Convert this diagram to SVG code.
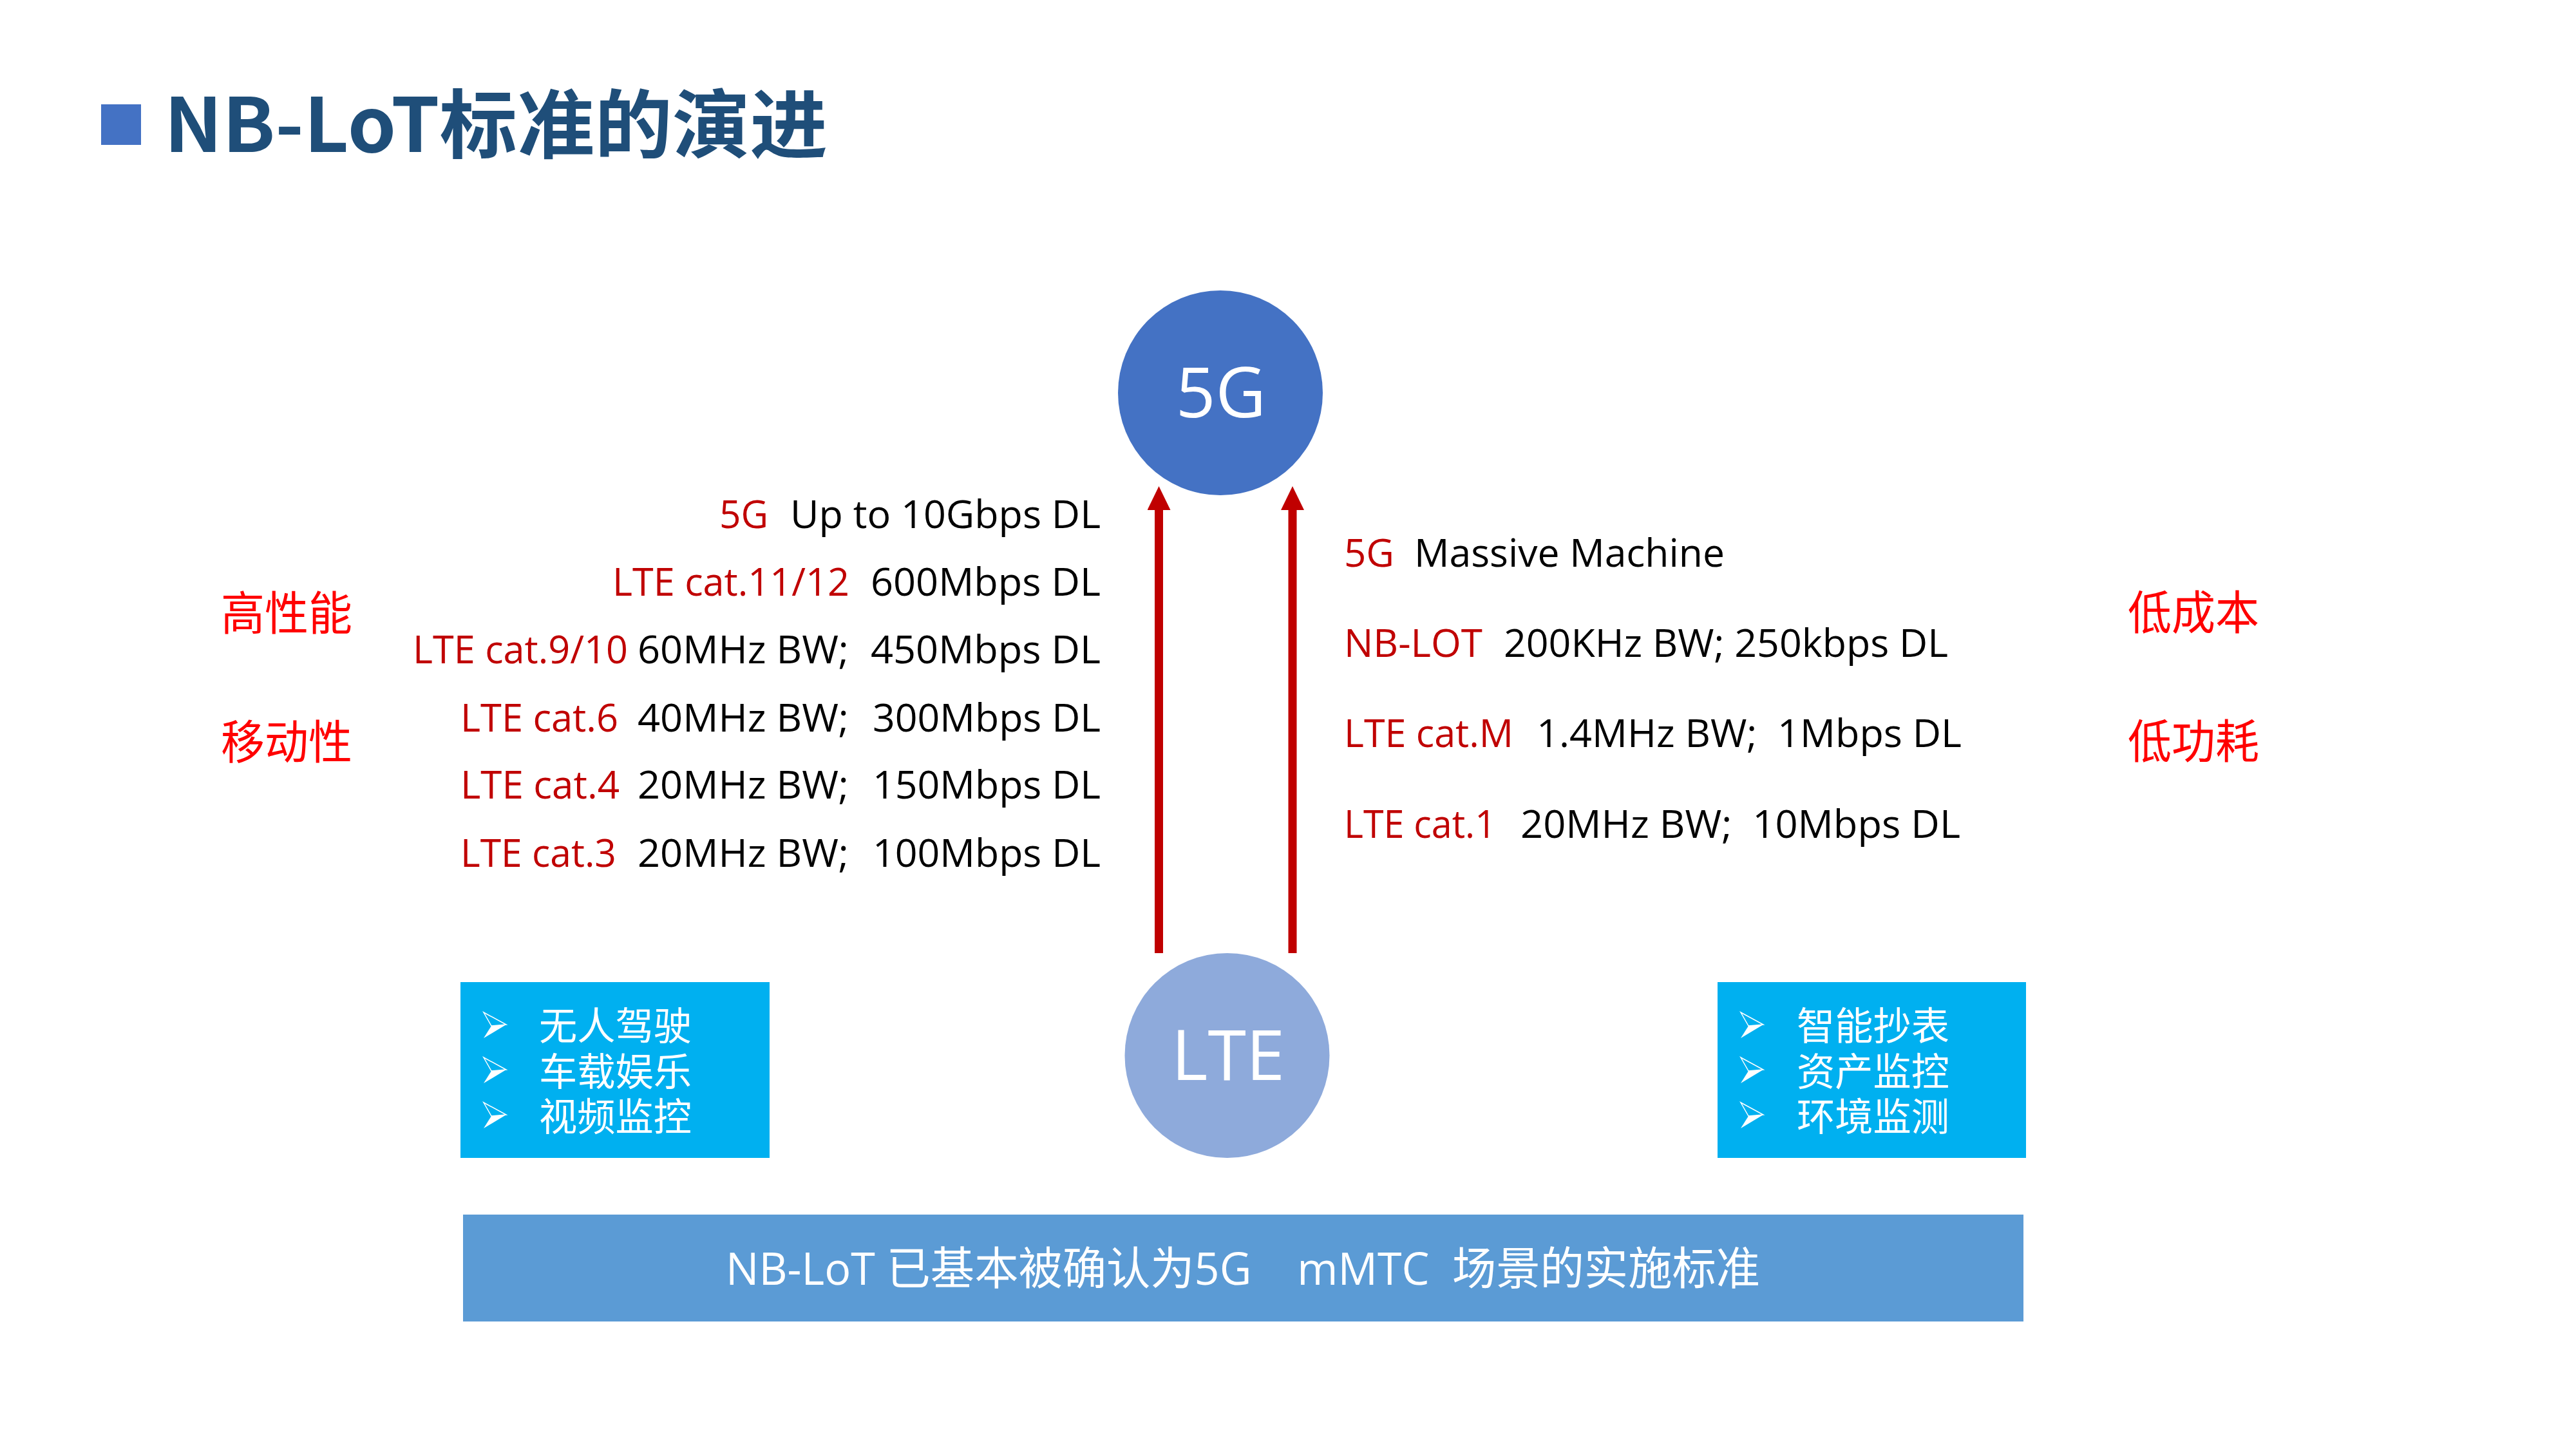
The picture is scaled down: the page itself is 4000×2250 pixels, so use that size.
<svg xmlns="http://www.w3.org/2000/svg" width="4000" height="2250" viewBox="0 0 4000 2250">
  <defs>
    <style>
      .lat { font-family: "Open Sans", "Noto Sans CJK SC", sans-serif; font-size: 61px; }
      .red { fill: #C00000; }
      .blk { fill: #000000; }
      .tag { font-family: "Noto Sans CJK SC", sans-serif; font-size: 72px; fill: #FF0000; }
      .item { font-family: "Liberation Sans", "Noto Sans CJK SC", sans-serif; font-size: 60px; fill: #FFFFFF; }
      .circ-label { font-family: "Open Sans", sans-serif; font-size: 108px; fill: #FFFFFF; text-anchor: middle; }
      .flow { stroke: #C00000; stroke-width: 13; fill: none; }
      .bullet-fill { fill: #FFFFFF; }
      .bullet-line { fill: none; stroke: #FFFFFF; stroke-width: 1.5; stroke-linejoin: miter; }
    </style>
    <marker id="head" markerUnits="userSpaceOnUse" markerWidth="37" markerHeight="36" refX="0" refY="18" orient="auto">
      <path d="M0,0 L37,18 L0,36 Z" fill="#C00000"/>
    </marker>
    <g id="bullet">
      <path class="bullet-line" d="M0,0 L35,19 L12,21 Z"/>
      <path class="bullet-fill" d="M35,19 L12,21 L0,40 Z"/>
    </g>
  </defs>

  <rect width="4000" height="2250" fill="#FFFFFF"/>

  <!-- heading -->
  <g id="title">
    <rect x="157" y="162" width="62" height="63" fill="#4472C4"/>
    <text x="255" y="236" font-family="Noto Sans CJK SC, sans-serif" font-weight="700" font-size="116" fill="#1F4E79" textLength="1030" lengthAdjust="spacingAndGlyphs">NB-LoT标准的演进</text>
  </g>

  <!-- connectors: LTE evolving up to 5G -->
  <g id="connectors">
    <line class="flow" x1="1799.5" y1="1480" x2="1799.5" y2="792" marker-end="url(#head)"/>
    <line class="flow" x1="2007" y1="1480" x2="2007" y2="792" marker-end="url(#head)"/>
  </g>

  <!-- 5G node -->
  <g id="node-5g">
    <circle cx="1895" cy="610" r="159" fill="#4472C4"/>
    <text class="circ-label" x="1896" y="648">5G</text>
  </g>

  <!-- LTE node -->
  <g id="node-lte">
    <circle cx="1905.5" cy="1639" r="159" fill="#8EAADB"/>
    <text class="circ-label" x="1907" y="1677">LTE</text>
  </g>

  <!-- high-throughput branch -->
  <g id="speed-list" class="lat">
    <text class="red" x="1117" y="820" textLength="76" lengthAdjust="spacingAndGlyphs">5G</text>
    <text class="blk" x="1227" y="820" textLength="482" lengthAdjust="spacingAndGlyphs">Up to 10Gbps DL</text>

    <text class="red" x="951" y="925" textLength="368" lengthAdjust="spacingAndGlyphs">LTE cat.11/12</text>
    <text class="blk" x="1352" y="925" textLength="357" lengthAdjust="spacingAndGlyphs">600Mbps DL</text>

    <text class="red" x="641" y="1030" textLength="334" lengthAdjust="spacingAndGlyphs">LTE cat.9/10</text>
    <text class="blk" x="990" y="1030" textLength="328" lengthAdjust="spacingAndGlyphs">60MHz BW;</text>
    <text class="blk" x="1352" y="1030" textLength="357" lengthAdjust="spacingAndGlyphs">450Mbps DL</text>

    <text class="red" x="715" y="1136" textLength="245" lengthAdjust="spacingAndGlyphs">LTE cat.6</text>
    <text class="blk" x="990" y="1136" textLength="328" lengthAdjust="spacingAndGlyphs">40MHz BW;</text>
    <text class="blk" x="1355" y="1136" textLength="354" lengthAdjust="spacingAndGlyphs">300Mbps DL</text>

    <text class="red" x="715" y="1240" textLength="247" lengthAdjust="spacingAndGlyphs">LTE cat.4</text>
    <text class="blk" x="990" y="1240" textLength="328" lengthAdjust="spacingAndGlyphs">20MHz BW;</text>
    <text class="blk" x="1355" y="1240" textLength="354" lengthAdjust="spacingAndGlyphs">150Mbps DL</text>

    <text class="red" x="715" y="1346" textLength="242" lengthAdjust="spacingAndGlyphs">LTE cat.3</text>
    <text class="blk" x="990" y="1346" textLength="328" lengthAdjust="spacingAndGlyphs">20MHz BW;</text>
    <text class="blk" x="1355" y="1346" textLength="354" lengthAdjust="spacingAndGlyphs">100Mbps DL</text>
  </g>

  <!-- machine-type branch -->
  <g id="mtc-list" class="lat">
    <text class="red" x="2087" y="880" textLength="78" lengthAdjust="spacingAndGlyphs">5G</text>
    <text class="blk" x="2196" y="880" textLength="482" lengthAdjust="spacingAndGlyphs">Massive Machine</text>

    <text class="red" x="2087" y="1020" textLength="215" lengthAdjust="spacingAndGlyphs">NB-LOT</text>
    <text class="blk" x="2335" y="1020" textLength="690" lengthAdjust="spacingAndGlyphs">200KHz BW; 250kbps DL</text>

    <text class="red" x="2087" y="1160" textLength="263" lengthAdjust="spacingAndGlyphs">LTE cat.M</text>
    <text class="blk" x="2386" y="1160" textLength="660" lengthAdjust="spacingAndGlyphs" xml:space="preserve">1.4MHz BW;  1Mbps DL</text>

    <text class="red" x="2087" y="1301" textLength="236" lengthAdjust="spacingAndGlyphs">LTE cat.1</text>
    <text class="blk" x="2361" y="1301" textLength="683" lengthAdjust="spacingAndGlyphs" xml:space="preserve">20MHz BW;  10Mbps DL</text>
  </g>

  <!-- feature tags -->
  <g id="tags">
    <text class="tag" x="343" y="978" textLength="204" lengthAdjust="spacingAndGlyphs">高性能</text>
    <text class="tag" x="343" y="1178" textLength="204" lengthAdjust="spacingAndGlyphs">移动性</text>
    <text class="tag" x="3304" y="977" textLength="204" lengthAdjust="spacingAndGlyphs">低成本</text>
    <text class="tag" x="3304" y="1177" textLength="204" lengthAdjust="spacingAndGlyphs">低功耗</text>
  </g>

  <!-- use cases, broadband -->
  <g id="box-broadband">
    <rect x="715" y="1525" width="480" height="273" fill="#00B0F0"/>
    <use href="#bullet" x="751" y="1572"/>
    <use href="#bullet" x="751" y="1642"/>
    <use href="#bullet" x="751" y="1712"/>
    <text class="item">
      <tspan x="837" y="1615" textLength="237" lengthAdjust="spacingAndGlyphs">无人驾驶</tspan>
      <tspan x="837" y="1686" textLength="237" lengthAdjust="spacingAndGlyphs">车载娱乐</tspan>
      <tspan x="837" y="1756" textLength="237" lengthAdjust="spacingAndGlyphs">视频监控</tspan>
    </text>
  </g>

  <!-- use cases, IoT -->
  <g id="box-iot">
    <rect x="2667" y="1525" width="479" height="273" fill="#00B0F0"/>
    <use href="#bullet" x="2703" y="1572"/>
    <use href="#bullet" x="2703" y="1642"/>
    <use href="#bullet" x="2703" y="1712"/>
    <text class="item">
      <tspan x="2790" y="1615" textLength="237" lengthAdjust="spacingAndGlyphs">智能抄表</tspan>
      <tspan x="2790" y="1686" textLength="237" lengthAdjust="spacingAndGlyphs">资产监控</tspan>
      <tspan x="2790" y="1756" textLength="237" lengthAdjust="spacingAndGlyphs">环境监测</tspan>
    </text>
  </g>

  <!-- conclusion bar -->
  <g id="banner">
    <rect x="719" y="1886" width="2423" height="166" fill="#5B9BD5"/>
    <text x="1127" y="1995" font-family="Open Sans, Noto Sans CJK SC, sans-serif" font-size="70" fill="#FFFFFF" textLength="1606" lengthAdjust="spacingAndGlyphs" xml:space="preserve">NB-LoT 已基本被确认为5G    mMTC  场景的实施标准</text>
  </g>
</svg>
